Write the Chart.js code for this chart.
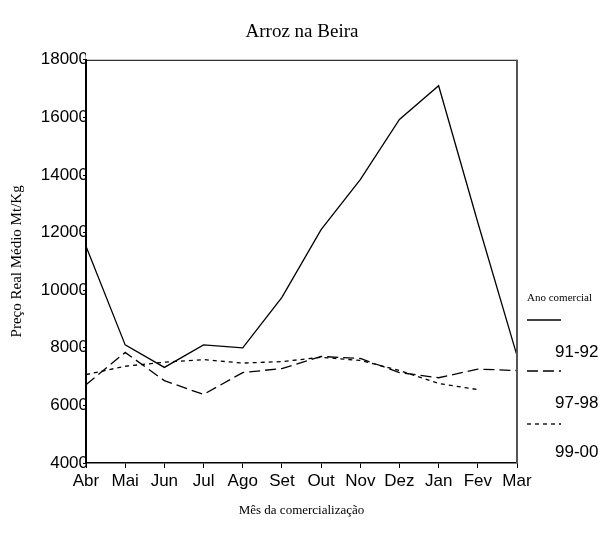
<!DOCTYPE html>
<html>
<head>
<meta charset="utf-8">
<script src="https://cdn.jsdelivr.net/npm/chart.js@4.4.1/dist/chart.umd.min.js"></script>
<style>
    html, body { margin: 0; padding: 0; background: #fff; }
    #wrap { width: 604px; height: 539px; }
</style>
</head>
<body>
<div id="wrap"><canvas id="arrozChart" width="604" height="539"></canvas></div>
<script>
// meses da comercialização
const months = ['Abr', 'Mai', 'Jun', 'Jul', 'Ago', 'Set', 'Out', 'Nov', 'Dez', 'Jan', 'Fev', 'Mar'];
// preço real médio Mt/Kg por ano comercial
const price9192 = [11530, 8100, 7320, 8100, 8000, 9750, 12100, 13840, 15930, 17100, 12350, 7730];
const price9798 = [6720, 7840, 6860, 6380, 7140, 7280, 7700, 7630, 7140, 6960, 7260, 7210];
const price9900 = [7070, 7360, 7500, 7590, 7470, 7520, 7670, 7560, 7210, 6760, 6550, null];
const seasons = ['91-92', '97-98', '99-00'];
const yTicks = [4000, 6000, 8000, 10000, 12000, 14000, 16000, 18000];

const sans = 'Liberation Sans, Arial, sans-serif';
const serif = 'Liberation Serif, Times New Roman, serif';

// moldura do gráfico + legenda desenhada à mão (layout do original)
const frameAndLegend = {
    id: 'frameAndLegend',
    afterDatasetsDraw(chart) {
        const {ctx, chartArea: a} = chart;
        ctx.save();
        ctx.strokeStyle = '#000';
        ctx.lineWidth = 1;
        ctx.beginPath();
        ctx.moveTo(a.left, a.top + 0.5);
        ctx.lineTo(a.right, a.top + 0.5);
        ctx.stroke();
        ctx.strokeStyle = '#555';
        ctx.lineWidth = 2;
        ctx.beginPath();
        ctx.moveTo(a.right, a.top);
        ctx.lineTo(a.right, a.bottom);
        ctx.stroke();

        const x0 = 527, x1 = 561;
        ctx.fillStyle = '#000';
        ctx.font = '11px ' + serif;
        ctx.textBaseline = 'middle';
        ctx.textAlign = 'left';
        ctx.fillText('Ano comercial', x0, 298);
        const rows = [320, 371, 424];
        const labelsY = [352, 403, 452];
        chart.data.datasets.forEach((ds, i) => {
            ctx.strokeStyle = '#000';
            ctx.lineWidth = 1.3;
            ctx.setLineDash(ds.borderDash || []);
            ctx.beginPath();
            ctx.moveTo(x0, rows[i]);
            ctx.lineTo(x1, rows[i]);
            ctx.stroke();
            ctx.setLineDash([]);
            ctx.font = '17px ' + sans;
            ctx.fillText(ds.label, 555, labelsY[i]);
        });
        ctx.restore();
    }
};

new Chart(document.getElementById('arrozChart'), {
    type: 'line',
    data: {
        labels: months,
        datasets: [
            {label: seasons[0], data: price9192, borderDash: []},
            {label: seasons[1], data: price9798, borderDash: [11, 5]},
            {label: seasons[2], data: price9900, borderDash: [4, 4]},
        ].map(ds => Object.assign(ds, {
            borderColor: '#000',
            borderWidth: 1.3,
            pointRadius: 0,
            tension: 0,
            fill: false,
            spanGaps: false,
        })),
    },
    options: {
        responsive: false,
        animation: false,
        layout: {padding: 0},
        plugins: {
            legend: {display: false},
            tooltip: {enabled: false},
            title: {
                display: true,
                text: 'Arroz na Beira',
                color: '#000',
                font: {family: serif, size: 19, weight: 'normal'},
                padding: {top: 21, bottom: 16},
            },
        },
        scales: {
            x: {
                offset: false,
                grid: {display: true, drawOnChartArea: false, drawTicks: true, tickLength: 5, color: '#000'},
                border: {display: true, color: '#000', width: 1.5},
                ticks: {color: '#000', font: {family: sans, size: 17}, padding: 3, maxRotation: 0, autoSkip: false},
                title: {
                    display: true,
                    text: 'Mês da comercialização',
                    color: '#000',
                    font: {family: serif, size: 13},
                    padding: {top: 4, bottom: 21},
                },
                afterFit(scale) { scale.height = 76; },
            },
            y: {
                min: 4000,
                max: 18000,
                afterBuildTicks(scale) { scale.ticks = yTicks.map(v => ({value: v})); },
                grid: {display: true, drawOnChartArea: false, drawTicks: true, tickLength: 3, color: '#000'},
                border: {display: true, color: '#000', width: 2},
                ticks: {color: '#000', font: {family: sans, size: 17}, padding: -5, callback: v => String(v)},
                title: {
                    display: true,
                    text: 'Preço Real Médio Mt/Kg',
                    color: '#000',
                    font: {family: serif, size: 15},
                    padding: {top: 8, bottom: 0},
                },
                afterFit(scale) { scale.width = 86; },
            },
            // eixo vazio à direita só para reservar espaço à legenda
            yRight: {
                position: 'right',
                min: 4000,
                max: 18000,
                grid: {display: false},
                border: {display: false},
                ticks: {display: false},
                afterFit(scale) { scale.width = 87; },
            },
        },
    },
    plugins: [frameAndLegend],
});
</script>
</body>
</html>
